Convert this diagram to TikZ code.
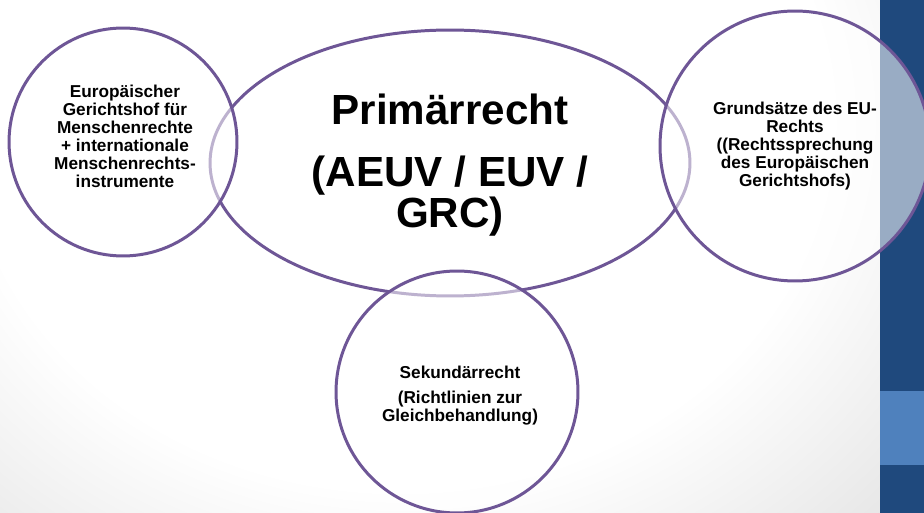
\documentclass[tikz,border=0pt]{standalone}
\usepackage{fontspec}
\setmainfont{Liberation Sans}
\usetikzlibrary{shapes.geometric}

\definecolor{kreislila}{RGB}{110,86,150}
\definecolor{balkenblau}{RGB}{31,73,125}
\definecolor{balkenhell}{RGB}{79,129,189}
\pgfdeclareradialshading{hintergrund}{\pgfpoint{0bp}{0bp}}{color(0bp)=(white); color(22bp)=(white); color(36bp)=(black!11); color(50bp)=(black!11)}

\tikzset{
  rkreis/.style={draw=kreislila, line width=1.7pt, fill=white, fill opacity=0.55, inner sep=0pt},
  kleintext/.style={align=center, font=\bfseries\fontsize{9.8}{10.24}\selectfont},
  grosstext/.style={align=center, font=\bfseries\fontsize{24}{23.3}\selectfont}
}

\begin{document}
\begin{tikzpicture}[x=0.02cm, y=-0.02cm]

\useasboundingbox (0,0) rectangle (924,513);

% background
\begin{scope}
\clip (0,0) rectangle (880,513);
\shade[shading=hintergrund] (-90,-300) rectangle (890,540);
\end{scope}
\fill[balkenblau] (880,0) rectangle (924,513);
\fill[balkenhell] (880,391) rectangle (924,465);

% primary law in the middle
\node[rkreis, ellipse, minimum width=9.6cm, minimum height=5.32cm] (primaer) at (450,163) {};

% the three circles round it
\node[rkreis, circle, minimum size=4.56cm] (emrk) at (123,142) {};
\node[rkreis, circle, minimum size=5.4cm] (grundsatz) at (795,146) {};
\node[rkreis, circle, minimum size=4.84cm] (sekundaer) at (457,392) {};

\node[grosstext] (primaertext) at (450,165) {Primärrecht\\[0.42cm](AEUV / EUV /\\GRC)};
\node[kleintext] (emrktext) at (125,136) {Europäischer\\Gerichtshof für\\Menschenrechte\\+ internationale\\Menschenrechts-\\instrumente};
\node[kleintext] (grundsatztext) at (795,146) {Grundsätze des EU-\\Rechts\\((Rechtssprechung\\des Europäischen\\Gerichtshofs)};
\node[kleintext] (sekundaertext) at (460,396) {Sekundärrecht\\[0.14cm](Richtlinien zur\\Gleichbehandlung)};

\end{tikzpicture}
\end{document}
